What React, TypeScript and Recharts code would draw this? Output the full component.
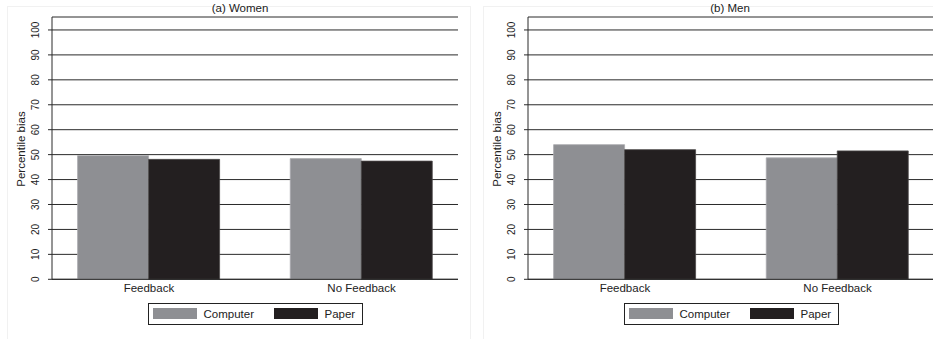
import React from "react";
import { BarChart, Bar, XAxis, YAxis, CartesianGrid, Legend } from "recharts";

const categories = ["Feedback", "No Feedback"];
const womenComputer = [49.6, 48.4];
const womenPaper = [48.1, 47.4];
const menComputer = [54.0, 48.7];
const menPaper = [52.0, 51.5];
const yTicks = [0, 10, 20, 30, 40, 50, 60, 70, 80, 90, 100];
const seriesNames = ["Computer", "Paper"];
const panelTitles = ["(a) Women", "(b) Men"];

const FONT = '"Liberation Sans", Arial, Helvetica, sans-serif';
const TEXT = "#222";
const GRID = "#2a2a2a";
const COMPUTER = "#8e8f93";
const PAPER = "#231f20";

const buildRows = (computer: number[], paper: number[]) =>
  categories.map((name, i) => ({ name, computer: computer[i], paper: paper[i] }));

function YTick(props: any) {
  const { x, y, payload } = props;
  return (
    <text
      x={x}
      y={y}
      transform={`rotate(-90 ${x} ${y})`}
      textAnchor="middle"
      dominantBaseline="central"
      fontSize={10}
      fontFamily={FONT}
      fill={TEXT}
    >
      {payload.value}
    </text>
  );
}

function LegendBox() {
  const swatch = (color: string) => (
    <span style={{ display: "inline-block", width: 44, height: 11, background: color }} />
  );
  return (
    <div
      style={{
        boxSizing: "border-box",
        width: 215,
        height: 22,
        border: `1px solid ${TEXT}`,
        background: "#fff",
        display: "flex",
        alignItems: "center",
        fontFamily: FONT,
        fontSize: 11.5,
        color: TEXT,
        paddingLeft: 4,
      }}
    >
      {swatch(COMPUTER)}
      <span style={{ marginLeft: 7, width: 70 }}>{seriesNames[0]}</span>
      {swatch(PAPER)}
      <span style={{ marginLeft: 7 }}>{seriesNames[1]}</span>
    </div>
  );
}

function Panel({ rows }: { rows: { name: string; computer: number; paper: number }[] }) {
  return (
    <BarChart
      width={466}
      height={339}
      data={rows}
      margin={{ top: 17, right: 8, left: 0, bottom: 0 }}
      barSize={71}
      barGap={0}
    >
      <CartesianGrid vertical={false} stroke={GRID} strokeWidth={1} />
      <XAxis
        dataKey="name"
        height={59.7}
        padding={{ left: -9.4, right: -9.9 }}
        axisLine={{ stroke: GRID }}
        tickLine={false}
        tickSize={0}
        tickMargin={5}
        tick={{ fontSize: 11.5, fontFamily: FONT, fill: TEXT }}
      />
      <YAxis
        width={52}
        domain={[0, 105.2]}
        ticks={yTicks}
        interval={0}
        axisLine={{ stroke: GRID }}
        tickLine={{ stroke: GRID }}
        tickSize={4}
        tickMargin={12}
        tick={<YTick />}
        label={{
          value: "Percentile bias",
          content: () => (
            <text
              x={21}
              y={149}
              transform="rotate(-90 21 149)"
              textAnchor="middle"
              dominantBaseline="central"
              fontSize={11.5}
              fontFamily={FONT}
              fill={TEXT}
            >
              Percentile bias
            </text>
          ),
        }}
      />
      <Legend
        layout="horizontal"
        align="center"
        verticalAlign="middle"
        wrapperStyle={{ top: 302.5, left: 147.5, width: 215, height: 22 }}
        content={() => <LegendBox />}
      />
      <Bar dataKey="computer" name={seriesNames[0]} fill={COMPUTER} stroke="#a9aaad" strokeWidth={0.8} isAnimationActive={false} />
      <Bar dataKey="paper" name={seriesNames[1]} fill={PAPER} stroke="#4a4748" strokeWidth={0.8} isAnimationActive={false} />
    </BarChart>
  );
}

const titleStyle: React.CSSProperties = {
  position: "absolute",
  top: 1,
  width: 200,
  textAlign: "center",
  fontFamily: FONT,
  fontSize: 11.5,
  color: TEXT,
  lineHeight: "14px",
};

export default function App() {
  return (
    <div
      style={{
        position: "absolute",
        left: 0,
        top: 0,
        width: 933,
        height: 339,
        overflow: "hidden",
        background: "#fff",
      }}
    >
      <div style={{ position: "absolute", left: 7, top: 6, width: 462, height: 340, border: "1px solid #f1f1f1" }} />
      <div style={{ position: "absolute", left: 483, top: 6, width: 462, height: 340, border: "1px solid #f1f1f1" }} />
      <div style={{ position: "absolute", left: 0, top: 0 }}>
        <Panel rows={buildRows(womenComputer, womenPaper)} />
      </div>
      <div style={{ position: "absolute", left: 476, top: 0 }}>
        <Panel rows={buildRows(menComputer, menPaper)} />
      </div>
      <div style={{ ...titleStyle, left: 140 }}>{panelTitles[0]}</div>
      <div style={{ ...titleStyle, left: 630 }}>{panelTitles[1]}</div>
    </div>
  );
}
